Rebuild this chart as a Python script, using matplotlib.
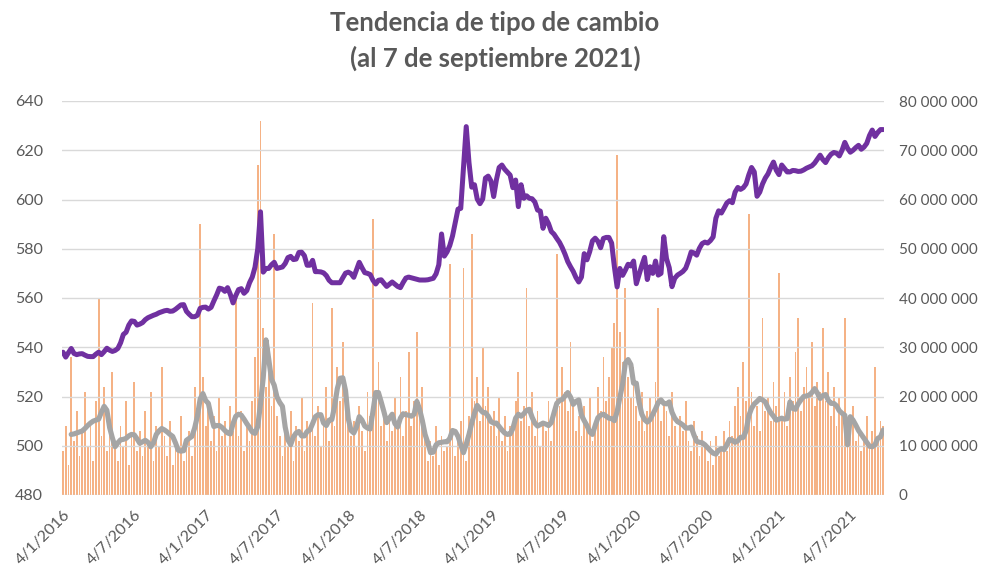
import matplotlib
matplotlib.use('Agg')
import matplotlib.pyplot as plt
import pandas as pd
from matplotlib.ticker import FuncFormatter, MultipleLocator

matplotlib.rc('font', family=['Lato', 'DejaVu Sans'])

GRIS_TEXTO = '#595959'
MORADO = '#7030A0'
GRIS = '#A5A5A5'
NARANJO = '#F5B285'

# Serie semanal desde el 4/1/2016
semanas = pd.date_range('2016-01-04', periods=300, freq='7D')

# Tipo de cambio (eje izquierdo)
tipo_cambio = [
    538.0, 536.0, 537.8, 539.5, 537.5, 537.0, 537.3, 537.4, 536.8, 536.3,
    536.2, 536.2, 537.2, 538.0, 537.0, 538.2, 539.6, 538.8, 538.3, 538.7,
    539.5, 541.8, 545.2, 546.1, 549.0, 550.7, 550.5, 549.0, 549.4, 550.0,
    551.2, 552.0, 552.5, 553.0, 553.4, 554.0, 554.4, 554.8, 555.0, 554.6,
    554.7, 555.4, 556.3, 557.2, 557.3, 554.6, 553.4, 552.4, 552.4, 553.0,
    555.8, 556.2, 556.3, 555.5, 556.2, 558.8, 561.2, 564.0, 563.7, 562.7,
    564.2, 561.5, 558.0, 561.0, 563.4, 563.8, 561.9, 563.0, 566.2, 568.5,
    572.5, 580.0, 595.0, 570.5, 572.0, 572.0, 573.5, 574.5, 572.0, 572.3,
    572.6, 574.0, 576.4, 576.9, 575.6, 575.8, 578.5, 578.6, 577.2, 573.3,
    573.3, 575.3, 570.7, 570.7, 570.6, 570.2, 569.1, 567.2, 566.2, 566.2,
    566.2, 566.2, 568.2, 570.1, 570.5, 569.9, 568.4, 571.5, 574.5, 572.3,
    570.3, 570.0, 569.5, 567.2, 565.7, 567.2, 567.4, 566.0, 564.7, 565.6,
    566.5, 565.6, 564.7, 564.2, 566.3, 568.1, 568.5, 568.2, 567.9, 567.6,
    567.3, 567.3, 567.3, 567.4, 567.7, 568.0, 569.8, 573.5, 586.0, 577.0,
    578.7, 581.3, 585.2, 590.7, 596.1, 596.4, 613.0, 629.6, 615.0, 605.0,
    606.0, 600.2, 598.3, 600.2, 608.7, 609.5, 607.5, 601.2, 608.0, 613.0,
    614.0, 612.3, 611.1, 609.9, 604.8, 607.9, 597.1, 606.0, 600.5, 601.5,
    600.5, 600.3, 599.0, 595.7, 595.3, 588.3, 592.4, 590.2, 587.0, 585.9,
    584.2, 582.6, 580.4, 577.8, 574.8, 572.7, 570.8, 568.3, 566.5, 568.5,
    578.0, 575.5, 578.8, 583.2, 584.3, 583.0, 580.4, 584.2, 584.6, 584.6,
    582.3, 572.7, 564.5, 572.0, 569.2, 571.3, 573.7, 573.0, 575.0, 565.8,
    569.5, 573.2, 576.5, 567.5, 572.7, 570.0, 575.0, 569.3, 570.0, 584.9,
    576.0, 572.3, 564.6, 568.0, 569.3, 570.0, 570.8, 572.1, 575.1, 578.7,
    578.3, 577.4, 580.2, 582.1, 582.7, 582.3, 583.3, 584.8, 592.4, 595.4,
    594.5, 596.5, 598.6, 599.5, 598.7, 603.0, 604.9, 604.1, 604.8, 606.3,
    610.0, 613.0, 611.2, 601.3, 603.0, 606.3, 608.7, 610.4, 613.0, 615.2,
    611.9, 610.1, 614.0, 612.6, 611.2, 611.2, 611.8, 611.7, 611.4, 611.5,
    612.0, 612.7, 613.2, 613.7, 614.8, 616.4, 618.0, 616.2, 615.0, 617.0,
    618.4, 619.1, 618.8, 617.7, 620.0, 623.2, 620.8, 619.2, 620.0, 621.1,
    622.0, 620.4, 621.3, 622.8, 626.0, 628.2, 625.6, 627.2, 628.4, 628.4,
]

# Volumen transado, millones de USD (eje derecho)
volumen = [
    9, 14, 6, 28, 11, 17, 8, 13, 21, 10, 15, 7, 19, 40, 12, 22, 9, 16, 25, 11,
    7, 14, 10, 19, 6, 12, 23, 9, 13, 8, 17, 11, 21, 7, 14, 10, 26, 12, 8, 15,
    6, 11, 9, 16, 7, 10, 13, 8, 22, 18, 55, 24, 14, 19, 11, 16, 9, 20, 12, 15,
    10, 18, 13, 40, 12, 17, 9, 15, 11, 19, 28, 67, 76, 34, 22, 30, 18, 53, 16, 12,
    8, 13, 10, 17, 7, 14, 11, 20, 9, 15, 13, 39, 12, 18, 10, 16, 22, 11, 38, 14,
    26, 19, 31, 22, 17, 12, 15, 10, 18, 13, 9, 21, 16, 56, 20, 27, 14, 18, 11, 16,
    13, 20, 15, 24, 12, 17, 29, 14, 19, 33, 16, 22, 13, 7, 11, 8, 14, 6, 12, 9,
    10, 47, 13, 8, 11, 15, 46, 7, 16, 53, 19, 24, 15, 30, 18, 22, 14, 17, 12, 20,
    11, 16, 9, 14, 13, 19, 25, 15, 18, 42, 14, 21, 12, 17, 10, 15, 13, 19, 11, 16,
    49, 18, 26, 21, 17, 31, 19, 13, 16, 12, 18, 14, 20, 11, 15, 22, 17, 28, 19, 24,
    30, 35, 69, 33, 27, 42, 24, 20, 26, 18, 15, 21, 13, 17, 20, 16, 23, 38, 15, 19,
    17, 12, 21, 14, 10, 16, 13, 19, 11, 9, 15, 12, 8, 13, 10, 7, 11, 6, 12, 8,
    10, 13, 9, 15, 12, 18, 22, 16, 27, 19, 57, 21, 14, 18, 13, 36, 17, 20, 15, 23,
    18, 45, 16, 21, 14, 24, 19, 29, 36, 17, 22, 26, 20, 31, 18, 23, 21, 34, 19, 25,
    16, 22, 14, 20, 17, 36, 15, 13, 18, 11, 14, 9, 12, 16, 10, 13, 26, 12, 15, 14,
]

# Promedio movil del volumen, millones (parte en la 4a semana)
promedio_movil = [
    12.3, 12.4, 12.6, 12.8, 13.0, 13.5, 14.1,
    14.6, 15.0, 15.2, 15.4, 16.8, 18.0, 17.2, 13.7, 11.6, 9.8,
    10.6, 11.2, 11.3, 11.5, 12.0, 12.3, 12.2, 11.4, 10.5, 10.8,
    11.1, 10.7, 9.8, 10.6, 12.3, 13.0, 13.5, 13.2, 12.8, 12.3,
    11.9, 10.6, 9.1, 8.9, 9.0, 11.1, 11.5, 11.9, 13.6, 16.0,
    19.5, 20.6, 19.2, 18.6, 16.0, 13.9, 14.1, 14.1, 13.7, 13.1,
    12.6, 12.4, 14.5, 16.0, 16.4, 16.2, 15.4, 14.5, 13.7, 12.8,
    12.5, 13.9, 18.5, 23.8, 31.5, 27.6, 23.5, 22.3, 19.9, 18.8,
    18.0, 13.8, 11.2, 10.2, 11.8, 12.6, 12.9, 12.0, 12.0, 12.9,
    13.2, 14.5, 15.9, 16.3, 16.3, 14.6, 14.1, 15.2, 15.3, 18.0,
    21.6, 23.7, 23.8, 21.2, 15.5, 13.1, 12.6, 13.8, 15.9, 15.2,
    14.0, 13.6, 13.4, 17.0, 20.8, 20.8, 18.9, 16.9, 14.7, 15.6,
    16.4, 14.5, 13.8, 15.6, 16.5, 16.3, 16.2, 16.0, 16.4, 19.0,
    17.4, 15.1, 12.3, 10.6, 8.6, 8.7, 10.2, 10.6, 10.7, 10.8,
    10.8, 11.5, 13.1, 12.9, 11.9, 10.2, 8.6, 10.3, 12.3, 14.6,
    16.6, 18.2, 17.4, 16.8, 16.7, 16.0, 14.9, 14.6, 14.6, 13.9,
    13.2, 12.6, 12.3, 12.4, 13.5, 15.6, 16.4, 16.0, 16.5, 17.2,
    17.4, 15.8, 14.6, 14.0, 14.3, 14.6, 14.4, 14.1, 14.7, 16.7,
    18.6, 19.2, 19.4, 20.1, 20.8, 19.9, 18.4, 19.0, 19.3, 16.2,
    15.1, 14.1, 12.8, 12.3, 14.1, 15.7, 16.2, 16.4, 16.0, 15.6,
    15.5, 15.1, 16.9, 19.8, 22.5, 26.8, 27.5, 26.5, 22.7, 22.7,
    18.9, 16.4, 15.3, 14.8, 15.3, 16.4, 17.5, 18.8, 19.3, 18.6,
    18.5, 18.9, 16.8, 15.6, 14.9, 14.6, 14.2, 13.6, 13.6, 13.8,
    12.2, 10.9, 10.7, 10.6, 10.2, 9.6, 9.0, 8.5, 8.3, 9.1,
    9.4, 9.2, 10.2, 11.3, 11.1, 10.7, 11.0, 11.7, 11.7, 13.0,
    16.1, 17.6, 18.5, 19.0, 19.6, 19.3, 18.9, 17.7, 16.7, 16.0,
    15.2, 15.4, 15.6, 15.4, 15.5, 18.9, 17.6, 17.4, 18.5, 19.3,
    20.0, 20.1, 20.3, 20.8, 21.6, 20.7, 19.6, 20.2, 20.4, 19.2,
    18.6, 18.6, 18.1, 17.1, 16.6, 16.2, 10.2, 15.9, 15.2, 14.2,
    13.1, 12.3, 11.5, 10.7, 9.9, 9.8, 10.2, 11.5, 11.8, 13.2,
]

fechas_etiqueta = pd.to_datetime([
    '2016-01-04', '2016-07-04', '2017-01-04', '2017-07-04', '2018-01-04',
    '2018-07-04', '2019-01-04', '2019-07-04', '2020-01-04', '2020-07-04',
    '2021-01-04', '2021-07-04',
])

fig = plt.figure(figsize=(9.84, 5.66), dpi=100)
ax = fig.add_axes([62 / 984, 1 - 495 / 566, 822 / 984, 394 / 566])
ax2 = ax.twinx()

# volumen + promedio en el eje de la derecha
ax.bar(semanas, [v * 1e6 for v in volumen], width=4.5, color=NARANJO,
       linewidth=0, zorder=1)
ax.plot(semanas[3:], [v * 1e6 for v in promedio_movil], color=GRIS,
        linewidth=3.7, solid_capstyle='round', solid_joinstyle='round', zorder=3)
ax2.plot(semanas, tipo_cambio, color=MORADO, linewidth=3.6,
         solid_capstyle='round', solid_joinstyle='round')

ax.set_ylim(0, 80e6)
ax.yaxis.set_major_locator(MultipleLocator(10e6))
ax.yaxis.set_major_formatter(FuncFormatter(lambda v, p: f'{v:,.0f}'.replace(',', ' ')))
ax.yaxis.set_ticks_position('right')
ax.set_axisbelow('line')
ax.grid(axis='y', color='#D9D9D9', linewidth=1.0)

ax2.set_ylim(480, 640)
ax2.yaxis.set_major_locator(MultipleLocator(20))
ax2.yaxis.set_ticks_position('left')

ax.set_xlim(pd.Timestamp('2016-01-01 12:00'), pd.Timestamp('2021-09-29'))
ax.set_xticks(fechas_etiqueta)
ax.set_xticklabels([f'{d.day}/{d.month}/{d.year}' for d in fechas_etiqueta],
                   rotation=45, ha='right', rotation_mode='anchor')

for a in (ax, ax2):
    for s in a.spines.values():
        s.set_visible(False)
    a.tick_params(length=0, colors=GRIS_TEXTO, labelsize=11.5)
ax.tick_params(axis='y', pad=10.5, labelsize=11)
ax2.tick_params(axis='y', pad=13.5)
ax.tick_params(axis='x', pad=9)

fig.text(0.503, 1 - 41 / 566, 'Tendencia de tipo de cambio\n(al 7 de septiembre 2021)',
         ha='center', va='center', fontsize=18.5, fontweight='bold',
         color=GRIS_TEXTO, linespacing=1.55)

fig.savefig('out.png', dpi=100)
